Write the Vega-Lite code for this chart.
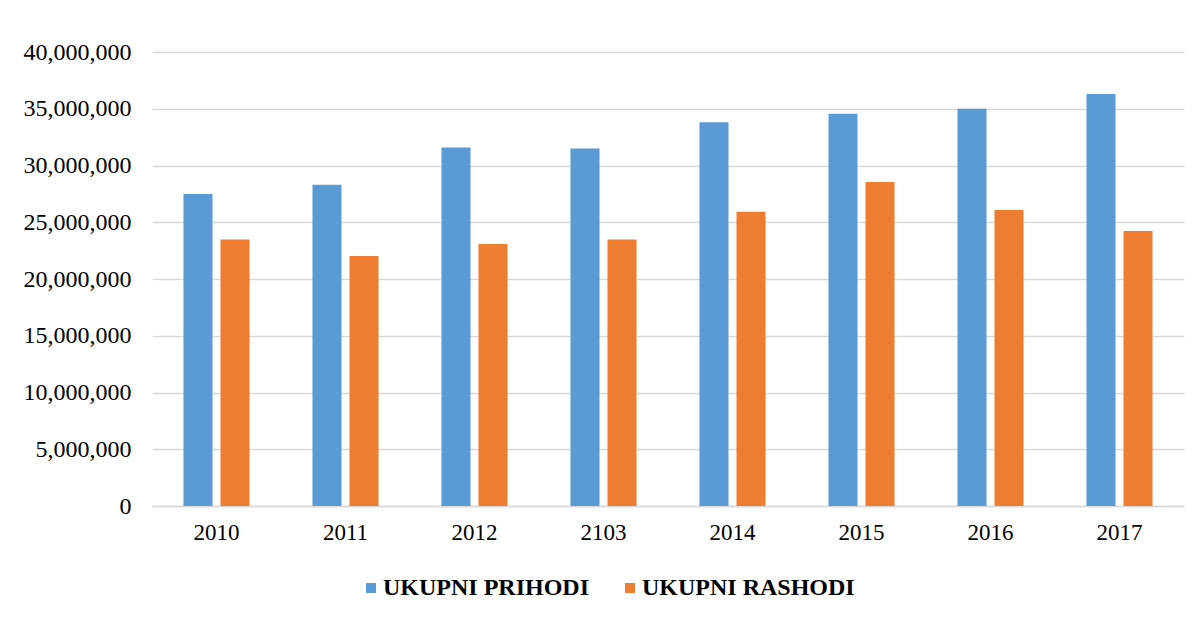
{
  "$schema": "https://vega.github.io/schema/vega-lite/v6.json",
  "autosize": {"type": "none"},
  "padding": {"left": 152, "top": 52, "right": 18, "bottom": 115},
  "width": 1032,
  "height": 454,
  "background": "white",
  "data": {
    "values": [
      {"year": "2010", "series": "UKUPNI PRIHODI", "value": 27480000},
      {"year": "2010", "series": "UKUPNI RASHODI", "value": 23490000},
      {"year": "2011", "series": "UKUPNI PRIHODI", "value": 28300000},
      {"year": "2011", "series": "UKUPNI RASHODI", "value": 22020000},
      {"year": "2012", "series": "UKUPNI PRIHODI", "value": 31590000},
      {"year": "2012", "series": "UKUPNI RASHODI", "value": 23080000},
      {"year": "2103", "series": "UKUPNI PRIHODI", "value": 31500000},
      {"year": "2103", "series": "UKUPNI RASHODI", "value": 23490000},
      {"year": "2014", "series": "UKUPNI PRIHODI", "value": 33820000},
      {"year": "2014", "series": "UKUPNI RASHODI", "value": 25920000},
      {"year": "2015", "series": "UKUPNI PRIHODI", "value": 34550000},
      {"year": "2015", "series": "UKUPNI RASHODI", "value": 28540000},
      {"year": "2016", "series": "UKUPNI PRIHODI", "value": 35000000},
      {"year": "2016", "series": "UKUPNI RASHODI", "value": 26070000},
      {"year": "2017", "series": "UKUPNI PRIHODI", "value": 36290000},
      {"year": "2017", "series": "UKUPNI RASHODI", "value": 24230000}
    ]
  },
  "mark": {"type": "bar"},
  "encoding": {
    "x": {
      "field": "year",
      "type": "nominal",
      "sort": null,
      "scale": {"paddingInner": 0.488, "paddingOuter": 0.244},
      "axis": {
        "title": null,
        "labelAngle": 0,
        "labelFont": "Liberation Serif",
        "labelFontSize": 23,
        "labelColor": "#000000",
        "labelPadding": 15,
        "ticks": false,
        "domainColor": "#D9D9D9",
        "domainWidth": 1.5
      }
    },
    "xOffset": {
      "field": "series",
      "type": "nominal",
      "scale": {"paddingInner": 0.216, "paddingOuter": 0}
    },
    "y": {
      "field": "value",
      "type": "quantitative",
      "scale": {"domain": [0, 40000000], "nice": false},
      "axis": {
        "title": null,
        "values": [0, 5000000, 10000000, 15000000, 20000000, 25000000, 30000000, 35000000, 40000000],
        "format": ",d",
        "labelFont": "Liberation Serif",
        "labelFontSize": 24,
        "labelColor": "#000000",
        "labelPadding": 21,
        "labelLimit": 0,
        "ticks": false,
        "domain": false,
        "gridColor": "#D9D9D9",
        "gridWidth": 1.5
      }
    },
    "color": {
      "field": "series",
      "type": "nominal",
      "scale": {"domain": ["UKUPNI PRIHODI", "UKUPNI RASHODI"], "range": ["#5B9BD5", "#ED7D31"]},
      "legend": {
        "title": null,
        "orient": "none",
        "legendX": 207,
        "legendY": 524,
        "direction": "horizontal",
        "symbolType": "square",
        "symbolSize": 100,
        "symbolStrokeWidth": 0,
        "labelFont": "Times New Roman, Liberation Serif, serif",
        "labelFontSize": 24,
        "labelFontWeight": "bold",
        "labelColor": "#000000",
        "labelLimit": 0,
        "columnPadding": 28,
        "labelOffset": 0
      }
    }
  },
  "config": {
    "view": {"stroke": null}
  }
}
